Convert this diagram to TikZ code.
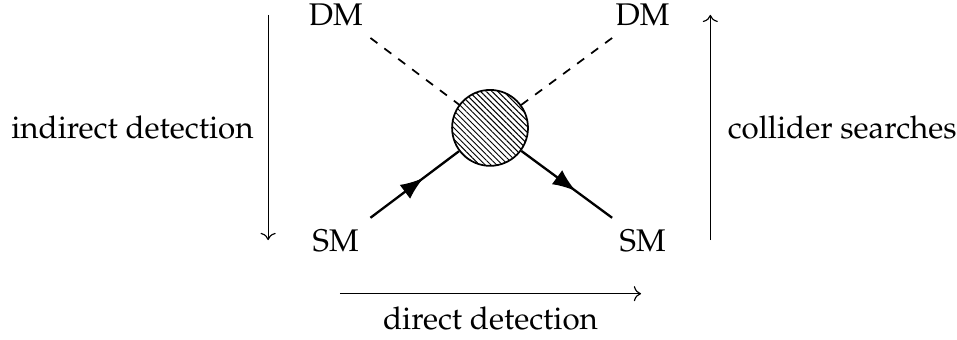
\documentclass[tikz,border=0pt]{standalone}
\usepackage[T1]{fontenc}
\usepackage{mathpazo}
\usetikzlibrary{positioning, patterns.meta, decorations.markings, arrows.meta}
\tikzset{Blob/.style={%
    shape=circle,%
    draw=black,%
    preaction={fill=white},%
    pattern={Lines[angle=-45,distance=1.4pt,line width=0.35pt]},%
    minimum size=0.92cm,%
    inner sep=0pt,%
    semithick,%
}}
\tikzset{Fermion/.style={%
    thick,%
    postaction={decorate},%
    decoration={markings, mark=at position 0.6 with {\arrow{Latex[length=8pt,width=6pt]}}},%
}}
\tikzset{Scalar/.style={%
    dashed,%
    semithick,%
}}
\tikzset{Axis/.style={%
    ->,%
    thin,%
}}

\begin{document}
\begin{tikzpicture}[font=\fontsize{10.8}{13}\selectfont]
    \useasboundingbox (-5.94,-2.57) rectangle (5.66,1.55);
    \coordinate (c1) at (-1.45,1.09);
    \coordinate (c2) at (1.48,1.09);
    \coordinate (c3) at (-1.45,-1.09);
    \coordinate (c4) at (1.48,-1.09);
    \draw[Scalar] (c1) -- (0,0);
    \draw[Scalar] (c2) -- (0,0);
    \node[Blob] (blob) at (0,0) {};
    \draw[Fermion] (c3) -- (blob);
    \draw[Fermion] (blob) -- (c4);

    \node (dm1) at (-1.87,1.37) {DM};
    \node (dm2) at (1.85,1.37) {DM};
    \node (sm1) at (-1.87,-1.37) {SM};
    \node (sm2) at (1.85,-1.37) {SM};

    \coordinate (a1) at (-2.69,1.37);
    \coordinate (a2) at (-2.69,-1.36);
    \coordinate (b1) at (2.67,-1.36);
    \coordinate (b2) at (2.67,1.37);
    \coordinate (d1) at (-1.82,-2.01);
    \coordinate (d2) at (1.83,-2.01);
    \draw[Axis] (a1) -- (a2) node[midway, left=1.5pt] (ind) {indirect detection};
    \draw[Axis] (b1) -- (b2) node[midway, right=2.5pt] (col) {collider searches};
    \draw[Axis] (d1) -- (d2) node[midway, below=1pt] (dir) {direct detection};
\end{tikzpicture}
\end{document}
